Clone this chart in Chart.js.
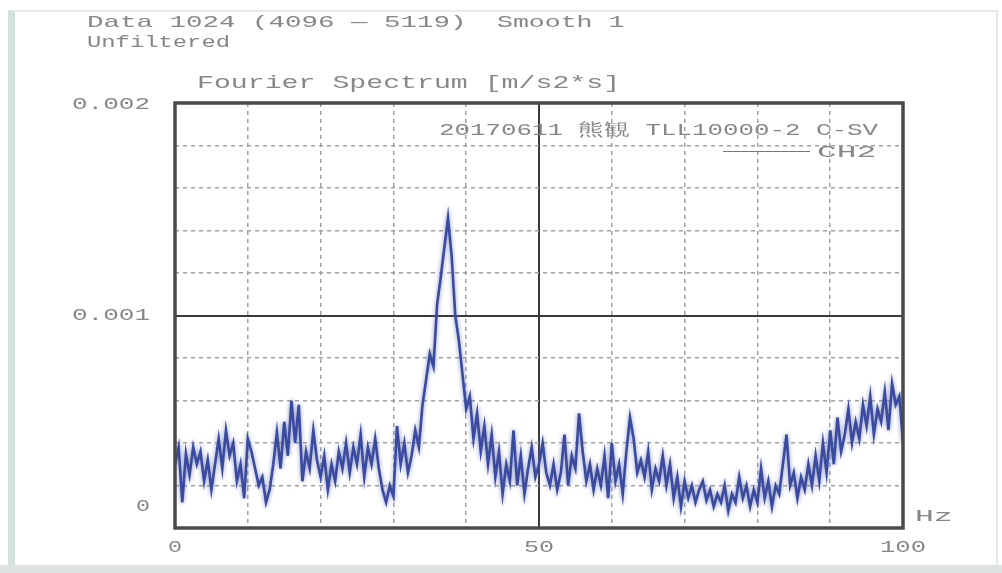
<!DOCTYPE html>
<html>
<head>
<meta charset="utf-8">
<script src="https://cdn.jsdelivr.net/npm/chart.js@4/dist/chart.umd.min.js"></script>
<style>
  html, body { margin: 0; padding: 0; background: #ffffff; }
  #wrap { position: relative; width: 1002px; height: 573px; overflow: hidden; background: #ffffff; }
  #frame { position: absolute; left: 8px; top: 10px; width: 990px; height: 555px;
           border-left: 7px solid #d3e2dd; border-top: 2px solid #e5ecea; border-right: 2px solid #e1e8e6; box-sizing: border-box; }
  #band { position: absolute; left: 0; top: 565px; width: 1002px; height: 8px; background: #dce3e1; }
  canvas { position: absolute; left: 0; top: 0; }
  .txt { position: absolute; color: #878787; font-family: "Liberation Mono", "DejaVu Sans Mono", monospace; white-space: pre;
         line-height: 1; font-size: 17px; transform-origin: 0 50%; }
  #legline { position: absolute; left: 723px; top: 151px; width: 87px; height: 0; border-top: 1.5px solid #7a7a7a; }
</style>
</head>
<body>
<div id="wrap">
  <div id="frame"></div>
  <div id="band"></div>
  <canvas id="c" width="1002" height="573"></canvas>
  <div class="txt" data-x0="87"  data-x1="467" data-cy="22">Data 1024 (4096 — 5119)</div>
  <div class="txt" data-x0="497" data-x1="625" data-cy="22">Smooth 1</div>
  <div class="txt" data-x0="87"  data-x1="230" data-cy="42">Unfiltered</div>
  <div class="txt" data-x0="197" data-x1="620" data-cy="83" style="font-size:18px">Fourier Spectrum [m/s2*s]</div>
  <div class="txt" data-x0="439" data-x1="878" data-cy="130">20170611 熊観 TLL10000-2 C-SV</div>
  <div id="legline"></div>
  <div class="txt" data-x0="817" data-x1="877" data-cy="152">CH2</div>
  <div class="txt" data-x0="915" data-x1="952" data-cy="516">Hz</div>
</div>
<script>
// Spectrum sampled every 0.5 Hz from 0 to 100 Hz
const freqStep = 0.5;
const amplitude = [
  0.00030, 0.00038, 0.00012, 0.00035, 0.00025, 0.00038, 0.00030, 0.00036, 0.00022, 0.00032,
  0.00018, 0.00030, 0.00042, 0.00028, 0.00046, 0.00034, 0.00040, 0.00022, 0.00030, 0.00014,
  0.00042, 0.00036, 0.00028, 0.00020, 0.00024, 0.00012, 0.00018, 0.00030, 0.00045, 0.00028,
  0.00050, 0.00034, 0.00060, 0.00040, 0.00058, 0.00022, 0.00036, 0.00028, 0.00046, 0.00032,
  0.00024, 0.00034, 0.00018, 0.00030, 0.00022, 0.00036, 0.00028, 0.00040, 0.00026, 0.00038,
  0.00030, 0.00044, 0.00024, 0.00038, 0.00030, 0.00042, 0.00028, 0.00018, 0.00012, 0.00020,
  0.00015, 0.00048, 0.00030, 0.00040, 0.00026, 0.00034, 0.00046, 0.00038, 0.00058, 0.00070,
  0.00082, 0.00076, 0.00105, 0.00118, 0.00132, 0.00146, 0.00128, 0.00100, 0.00088, 0.00072,
  0.00056, 0.00062, 0.00042, 0.00054, 0.00036, 0.00048, 0.00030, 0.00044, 0.00024, 0.00036,
  0.00016, 0.00030, 0.00022, 0.00046, 0.00020, 0.00034, 0.00016, 0.00028, 0.00038, 0.00024,
  0.00030, 0.00040, 0.00026, 0.00020, 0.00030, 0.00018, 0.00026, 0.00044, 0.00020, 0.00034,
  0.00028, 0.00054, 0.00036, 0.00022, 0.00030, 0.00018, 0.00028, 0.00020, 0.00034, 0.00014,
  0.00040, 0.00022, 0.00030, 0.00016, 0.00036, 0.00052, 0.00042, 0.00026, 0.00032, 0.00024,
  0.00036, 0.00018, 0.00028, 0.00022, 0.00034, 0.00020, 0.00030, 0.00014, 0.00024, 0.00010,
  0.00022, 0.00014, 0.00020, 0.00012, 0.00018, 0.00022, 0.00013, 0.00018, 0.00010, 0.00016,
  0.00012, 0.00020, 0.00008, 0.00016, 0.00012, 0.00024, 0.00014, 0.00020, 0.00010, 0.00018,
  0.00012, 0.00028, 0.00014, 0.00022, 0.00010, 0.00020, 0.00016, 0.00030, 0.00044, 0.00020,
  0.00026, 0.00014, 0.00024, 0.00018, 0.00030, 0.00020, 0.00034, 0.00022, 0.00040, 0.00026,
  0.00046, 0.00030, 0.00052, 0.00036, 0.00044, 0.00056, 0.00040, 0.00050, 0.00042, 0.00058,
  0.00048, 0.00062, 0.00044, 0.00056, 0.00050, 0.00064, 0.00046, 0.00068, 0.00058, 0.00062,
  0.00040
];
const xTickLabels = [0, 50, 100];
const yTickLabels = [0, 0.001, 0.002];

const points = amplitude.map((v, i) => ({ x: i * freqStep, y: v }));

// Stretch each caption horizontally so it spans its slot
document.querySelectorAll('.txt').forEach(el => {
  const x0 = +el.dataset.x0, x1 = +el.dataset.x1, cy = +el.dataset.cy;
  const w = el.offsetWidth, h = el.offsetHeight;
  el.style.left = x0 + 'px';
  el.style.top = (cy - h / 2) + 'px';
  el.style.transform = 'scaleX(' + ((x1 - x0) / w).toFixed(4) + ')';
});

const near = (a, b) => Math.abs(a - b) < 1e-9;
const gridColor = '#a0a0a0';
const axisColor = '#3a3a3a';

function wideText(ctx, str, x, y, align) {
  const w = ctx.measureText(str).width;
  const target = str.length * 16 - 2;
  const sx = target / w;
  let left = x;
  if (align === 'center') left = x - target / 2;
  else if (align === 'right') left = x - target;
  ctx.save();
  ctx.translate(left, y);
  ctx.scale(sx, 1);
  ctx.textAlign = 'left';
  ctx.fillText(str, 0, 0);
  ctx.restore();
}

// Halo around the trace, plot frame and tick text
const decor = {
  id: 'decor',
  beforeDatasetsDraw(chart) {
    const ctx = chart.ctx;
    ctx.save();
    ctx.shadowColor = 'rgba(100,112,180,0.8)';
    ctx.shadowBlur = 4;
  },
  afterDatasetsDraw(chart) {
    const ctx = chart.ctx;
    ctx.restore();
    const a = chart.chartArea;
    ctx.save();
    ctx.strokeStyle = '#4a4a4a';
    ctx.lineWidth = 3.5;
    ctx.strokeRect(a.left, a.top, a.right - a.left, a.bottom - a.top);
    ctx.restore();
  },
  afterDraw(chart) {
    const ctx = chart.ctx;
    const xs = chart.scales.x, ys = chart.scales.y;
    ctx.save();
    ctx.fillStyle = '#878787';
    ctx.font = '16px "Liberation Mono", "DejaVu Sans Mono", monospace';
    ctx.textBaseline = 'middle';
    xTickLabels.forEach(v => {
      wideText(ctx, String(v), xs.getPixelForValue(v), 548, 'center');
    });
    yTickLabels.forEach(v => {
      let y = ys.getPixelForValue(v);
      if (v === 0) y -= 21;
      else if (near(v, 0.002)) y += 2;
      wideText(ctx, String(v), 150, y, 'right');
    });
    ctx.restore();
  }
};

new Chart(document.getElementById('c'), {
  type: 'line',
  data: {
    datasets: [{
      label: 'CH2',
      data: points,
      borderColor: '#3a4a9e',
      borderWidth: 2.6,
      pointRadius: 0,
      tension: 0,
      fill: false
    }]
  },
  options: {
    responsive: false,
    animation: false,
    events: [],
    layout: { padding: { left: 175, top: 103, right: 99, bottom: 45 } },
    plugins: { legend: { display: false }, tooltip: { enabled: false }, title: { display: false } },
    scales: {
      x: {
        type: 'linear', min: 0, max: 100,
        ticks: { display: false, stepSize: 10 },
        grid: {
          drawTicks: false, tickLength: 0,
          color: c => (c.tick && (c.tick.value === 0 || c.tick.value === 100)) ? 'rgba(0,0,0,0)' : (c.tick && c.tick.value === 50 ? axisColor : gridColor),
          lineWidth: c => (c.tick && c.tick.value === 50) ? 2 : 1.5
        },
        border: { display: false, dash: c => (c.tick && c.tick.value === 50) ? [] : [4, 4] }
      },
      y: {
        type: 'linear', min: 0, max: 0.002,
        ticks: { display: false, stepSize: 0.0002 },
        grid: {
          drawTicks: false, tickLength: 0,
          color: c => {
            if (!c.tick) return gridColor;
            const v = c.tick.value;
            if (near(v, 0) || near(v, 0.002)) return 'rgba(0,0,0,0)';
            return near(v, 0.001) ? axisColor : gridColor;
          },
          lineWidth: c => (c.tick && near(c.tick.value, 0.001)) ? 2 : 1.5
        },
        border: { display: false, dash: c => (c.tick && near(c.tick.value, 0.001)) ? [] : [4, 4] }
      }
    }
  },
  plugins: [decor]
});
</script>
</body>
</html>
